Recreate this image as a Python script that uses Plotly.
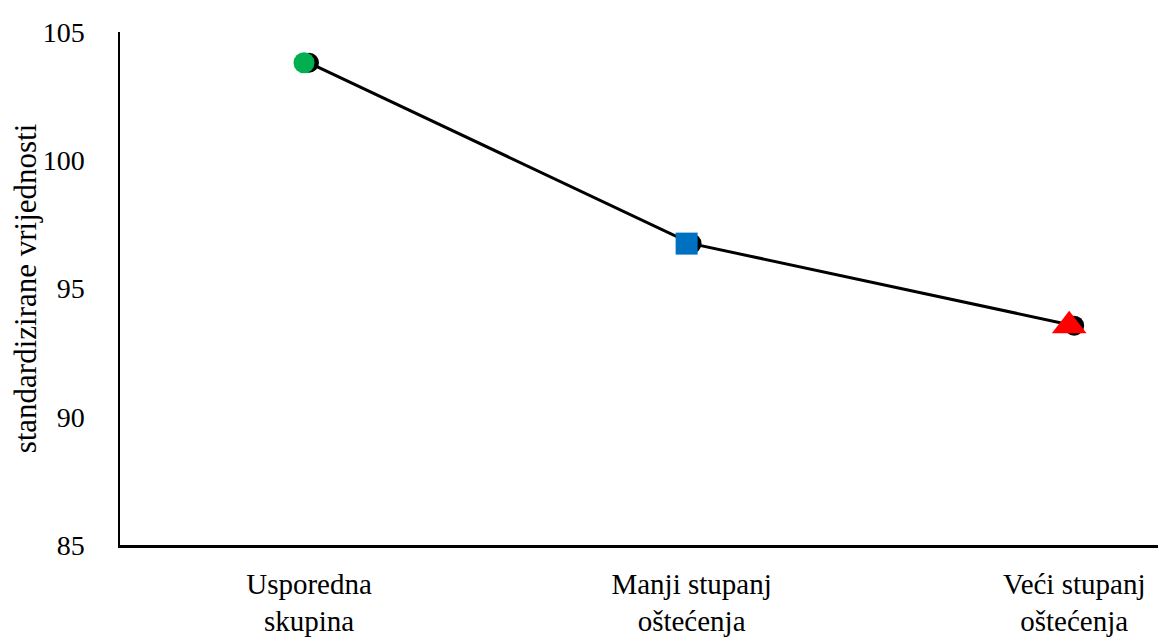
import plotly.graph_objects as go

categories = ["Usporedna<br>skupina", "Manji stupanj<br>oštećenja", "Veći stupanj<br>oštećenja"]
values = [103.8, 96.75, 93.55]
marker_colors = ["#00B050", "#0070C0", "#FF0000"]
marker_symbols = ["circle", "square", "triangle-up"]
marker_sizes = [21, 22, 30]
y_ticks = [85, 90, 95, 100, 105]

FONT = "Liberation Serif, Times New Roman, serif"

fig = go.Figure()
fig.add_trace(go.Scatter(
    x=categories, y=values, mode="lines+markers",
    line=dict(color="black", width=3),
    marker=dict(color="black", size=20, symbol="circle"),
    showlegend=False, hoverinfo="skip",
))
fig.add_trace(go.Scatter(
    x=categories, y=values, mode="markers", xaxis="x2",
    marker=dict(color=marker_colors, size=marker_sizes, symbol=marker_symbols,
                opacity=1, line=dict(width=0)),
    showlegend=False,
))

xr = [-0.494, 2.24]
shift = 0.013
# page body has an 8px default margin, so the figure is sized to fit inside it
fig.update_layout(
    width=1158, height=629,
    margin=dict(l=112, r=0, t=24, b=92),
    paper_bgcolor="white", plot_bgcolor="white",
    font=dict(family=FONT, size=28, color="black"),
    xaxis=dict(
        type="category", range=xr, showgrid=False, zeroline=False,
        showline=True, linecolor="black", linewidth=2.5, automargin=False,
        ticks="outside", ticklen=11, tickcolor="rgba(0,0,0,0)",
        tickfont=dict(family=FONT, size=29, color="black"),
    ),
    xaxis2=dict(
        type="category", range=[xr[0] + shift, xr[1] + shift], overlaying="x",
        visible=False, showgrid=False, zeroline=False, automargin=False,
    ),
    yaxis=dict(
        range=[85, 105], tickvals=y_ticks, showgrid=False, zeroline=False,
        showline=True, linecolor="black", linewidth=1.5, automargin=False,
        ticks="outside", ticklen=28, tickcolor="rgba(0,0,0,0)",
        tickfont=dict(family=FONT, size=28, color="black"),
        title=dict(text="standardizirane vrijednosti", standoff=8,
                   font=dict(family=FONT, size=31, color="black")),
    ),
)

fig.write_html("out.html")
